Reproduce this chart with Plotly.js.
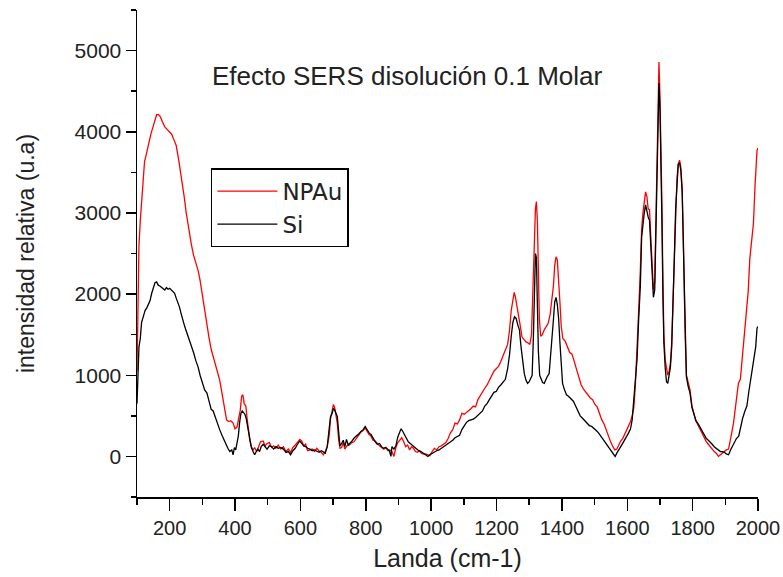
<!DOCTYPE html>
<html>
<head>
<meta charset="utf-8">
<script src="https://cdn.plot.ly/plotly-3.0.1.min.js"></script>
<style>html,body{margin:0;padding:0;background:#fff;}#chart{width:783px;height:577px;}</style>
</head>
<body>
<div id="chart"></div>
<script>
// Reference data
const chartTitle = "Efecto SERS disolución 0.1 Molar";
const xTitle = "Landa (cm-1)";
const yTitle = "intensidad relativa (u.a)";
const seriesNames = ["NPAu", "Si"];
const xTickVals = [200, 400, 600, 800, 1000, 1200, 1400, 1600, 1800, 2000];
const yTickVals = [0, 1000, 2000, 3000, 4000, 5000];

const npauX = [100,103,106,110,114,118,123,130,137,143,149,155,160,166,172,178,185,192,200,206,213,220,228,236,244,251,258,266,273,280,287,293,300,307,314,320,327,333,340,347,353,360,367,374,380,387,394,400,406,411,416,420,424,428,433,437,440,445,450,455,460,466,472,478,486,492,498,505,512,518,525,532,540,548,556,563,570,577,584,591,598,604,610,616,622,629,636,643,650,657,664,670,676,682,688,692,697,701,705,709,713,717,721,726,731,736,742,750,757,764,771,778,785,792,798,804,810,816,822,829,835,842,848,855,862,868,874,880,886,892,898,904,910,916,922,928,934,940,946,952,958,964,970,976,983,990,996,1003,1010,1017,1024,1031,1038,1045,1052,1059,1066,1073,1080,1087,1094,1101,1108,1115,1122,1129,1136,1143,1150,1157,1164,1171,1178,1185,1192,1199,1206,1213,1220,1227,1234,1240,1245,1250,1254,1258,1263,1268,1273,1278,1284,1290,1296,1302,1307,1311,1315,1319,1322,1325,1328,1331,1335,1340,1346,1352,1358,1364,1369,1374,1378,1382,1386,1390,1394,1398,1403,1410,1417,1424,1431,1438,1445,1452,1459,1466,1473,1480,1487,1494,1501,1508,1515,1522,1529,1536,1543,1550,1556,1562,1568,1574,1580,1586,1592,1598,1604,1610,1615,1620,1625,1630,1635,1640,1644,1648,1652,1656,1660,1664,1668,1672,1676,1680,1684,1688,1691,1694,1697,1700,1703,1706,1709,1712,1716,1720,1724,1728,1732,1736,1740,1744,1748,1752,1756,1760,1764,1768,1771,1774,1777,1781,1786,1792,1798,1804,1810,1817,1823,1830,1836,1842,1848,1854,1860,1866,1872,1879,1885,1891,1897,1903,1910,1915,1920,1925,1930,1935,1940,1946,1952,1958,1964,1970,1975,1980,1986,1991,1997,2000];
const npauY = [1050,1900,2600,2900,3120,3400,3630,3750,3900,3980,4060,4150,4210,4210,4180,4120,4060,4030,4000,3970,3900,3830,3640,3440,3210,2990,2800,2620,2480,2380,2290,2170,1980,1840,1620,1470,1320,1230,1120,1020,940,780,620,450,430,440,410,340,360,470,570,740,760,650,620,460,330,200,120,80,110,60,120,180,190,130,160,170,110,130,100,140,90,120,60,90,50,110,140,170,210,190,130,150,70,80,90,60,100,70,50,20,60,120,260,460,550,640,600,480,400,200,100,110,170,90,130,140,170,180,220,260,300,320,350,310,270,250,200,190,160,130,110,90,110,70,80,60,0,110,170,200,230,180,120,140,80,120,100,60,50,70,40,30,30,20,10,60,100,80,120,130,150,170,220,290,330,410,400,450,530,520,540,560,590,620,610,700,750,790,840,880,940,980,1050,1080,1110,1170,1230,1310,1380,1560,1800,1950,2020,1960,1820,1700,1600,1470,1440,1410,1400,1380,1500,2100,2700,3050,3140,2900,2300,1700,1480,1500,1560,1600,1640,1750,1900,2100,2350,2460,2420,2200,1900,1600,1450,1420,1350,1280,1260,1170,1080,960,880,830,790,760,720,700,640,610,520,450,400,320,260,170,120,80,90,150,190,220,270,320,380,430,500,600,900,1300,1800,2300,2800,3000,3150,3260,3200,3050,3040,2700,2300,2050,2150,2950,3700,4300,4860,4450,3900,3120,2200,1500,1190,1080,1000,1050,1150,1400,1900,2550,3100,3420,3600,3650,3560,3300,2800,2100,1500,1000,900,820,620,520,440,380,330,260,220,180,150,120,80,60,40,0,20,40,60,80,90,180,300,410,600,750,900,950,1200,1450,1760,2030,2440,2650,2870,3340,3770,3800];

const siX = [100,103,106,110,114,119,125,130,135,140,145,150,155,160,165,170,175,180,185,190,195,200,205,210,215,220,225,230,235,240,246,252,259,266,273,280,287,293,300,307,314,320,327,333,340,347,353,360,366,372,378,384,390,394,398,402,406,410,414,418,422,426,430,434,438,442,446,450,455,460,465,470,475,480,486,492,498,505,512,518,525,532,540,548,556,563,570,577,584,591,598,604,610,616,622,629,636,643,650,657,664,670,676,682,688,692,697,701,705,709,713,717,721,726,731,736,741,746,752,758,765,772,779,786,792,798,804,810,816,822,829,835,842,848,854,860,866,872,877,880,886,892,898,903,908,913,918,923,930,936,942,948,955,962,969,976,983,990,996,1003,1010,1017,1024,1031,1038,1045,1052,1059,1066,1073,1080,1087,1094,1101,1108,1115,1122,1129,1136,1143,1150,1157,1164,1171,1178,1185,1192,1199,1206,1213,1220,1227,1234,1240,1245,1250,1255,1260,1265,1270,1275,1280,1285,1290,1295,1300,1305,1309,1313,1316,1319,1322,1325,1328,1332,1336,1341,1346,1351,1356,1361,1365,1370,1374,1378,1382,1386,1390,1394,1398,1402,1408,1414,1420,1428,1435,1442,1449,1456,1463,1470,1477,1484,1491,1498,1505,1512,1519,1526,1533,1540,1546,1552,1558,1563,1568,1574,1580,1586,1592,1598,1604,1610,1615,1620,1625,1630,1635,1640,1644,1648,1652,1656,1660,1664,1668,1672,1676,1680,1684,1688,1691,1694,1697,1700,1703,1706,1709,1712,1716,1720,1724,1728,1732,1736,1740,1744,1748,1752,1756,1760,1764,1768,1771,1774,1777,1781,1786,1792,1798,1804,1810,1817,1823,1830,1836,1842,1848,1854,1860,1866,1872,1879,1885,1891,1897,1903,1910,1916,1922,1928,1934,1941,1947,1953,1960,1966,1972,1978,1983,1988,1993,1997,2000];
const siY = [650,1000,1350,1450,1650,1720,1800,1830,1870,1920,2010,2080,2140,2150,2110,2100,2080,2060,2050,2080,2060,2070,2050,2030,2010,1950,1900,1840,1760,1680,1600,1530,1450,1350,1280,1180,1100,1000,920,820,780,680,580,560,470,400,330,260,200,150,100,60,80,20,110,80,160,250,420,530,560,540,520,470,380,260,150,110,60,20,60,90,60,120,150,120,90,130,120,90,120,100,110,90,50,60,20,70,100,150,190,160,130,120,100,90,70,80,60,50,70,50,40,120,330,490,530,590,570,530,490,300,130,160,200,120,210,140,160,190,230,250,280,310,330,370,330,290,270,220,180,150,160,120,100,110,90,70,0,120,90,130,240,300,340,310,270,230,180,160,140,110,90,70,60,40,20,0,20,40,60,70,80,100,110,140,160,180,200,230,250,260,330,370,420,440,450,460,480,510,530,560,620,650,700,740,790,800,850,880,910,950,1080,1260,1480,1650,1720,1700,1620,1560,1350,1150,1020,940,900,920,960,1000,1500,2100,2500,2450,1900,1300,1000,960,910,900,950,990,1020,1200,1450,1680,1900,1960,1870,1700,1400,1100,900,820,760,740,710,680,620,560,500,470,440,410,380,370,350,320,290,250,210,170,130,100,60,30,0,40,90,120,160,200,240,290,340,450,700,950,1200,1700,2100,2700,2900,3000,3100,3020,2950,2910,2600,2200,1960,2050,2800,3500,4200,4600,4300,3700,2900,2000,1400,1100,920,900,1000,1100,1350,1800,2450,3050,3400,3600,3620,3520,3250,2700,2050,1450,980,870,780,600,510,440,400,360,300,260,220,200,180,150,120,100,80,60,60,50,30,20,80,130,190,220,250,380,470,560,620,800,950,1100,1200,1350,1580,1600];

const FONT = "Liberation Sans, Arial, sans-serif";
const TXT = "#222222";

const traces = [
  {x: npauX, y: npauY, name: seriesNames[0], type: "scatter", mode: "lines",
   line: {color: "#ff0000", width: 1.3}},
  {x: siX, y: siY, name: seriesNames[1], type: "scatter", mode: "lines",
   line: {color: "#000000", width: 1.3}}
];

const layout = {
  width: 783, height: 577,
  margin: {l: 137, r: 25, t: 10, b: 80, pad: 0},
  paper_bgcolor: "#ffffff", plot_bgcolor: "#ffffff",
  font: {family: FONT, color: TXT, size: 20},
  showlegend: true,
  legend: {
    x: 0.119, y: 0.675, xanchor: "left", yanchor: "top",
    bordercolor: "#000000", borderwidth: 1.5, bgcolor: "#ffffff",
    font: {family: "DejaVu Sans, Liberation Sans, sans-serif", size: 23, color: TXT},
    tracegroupgap: 0, itemwidth: 60
  },
  xaxis: {
    range: [100, 2000], tickvals: xTickVals, showgrid: false, zeroline: false,
    showline: true, linecolor: "#000000", linewidth: 1.5,
    ticks: "outside", ticklen: 12, tickwidth: 1.5, tickcolor: "#000000",
    tickfont: {family: FONT, size: 20, color: TXT},
    minor: {dtick: 100, ticks: "outside", ticklen: 6, tickwidth: 1.5, tickcolor: "#000000", showgrid: false},
    title: {text: xTitle, font: {family: FONT, size: 25, color: TXT}, standoff: 12}
  },
  yaxis: {
    range: [-500, 5500], tickvals: yTickVals, showgrid: false, zeroline: false,
    showline: true, linecolor: "#000000", linewidth: 1.5,
    ticks: "outside", ticklen: 10, tickwidth: 1.5, tickcolor: "#000000",
    tickfont: {family: FONT, size: 21, color: TXT},
    minor: {dtick: 500, ticks: "outside", ticklen: 5, tickwidth: 1.5, tickcolor: "#000000", showgrid: false},
    title: {text: yTitle, font: {family: FONT, size: 23, color: TXT}, standoff: 33}
  },
  annotations: [{
    text: chartTitle, xref: "paper", yref: "paper", x: 0.435, y: 0.864,
    xanchor: "center", yanchor: "middle", showarrow: false,
    font: {family: FONT, size: 26, color: TXT}
  }]
};

Plotly.newPlot("chart", traces, layout, {staticPlot: true, displayModeBar: false});
</script>
</body>
</html>
